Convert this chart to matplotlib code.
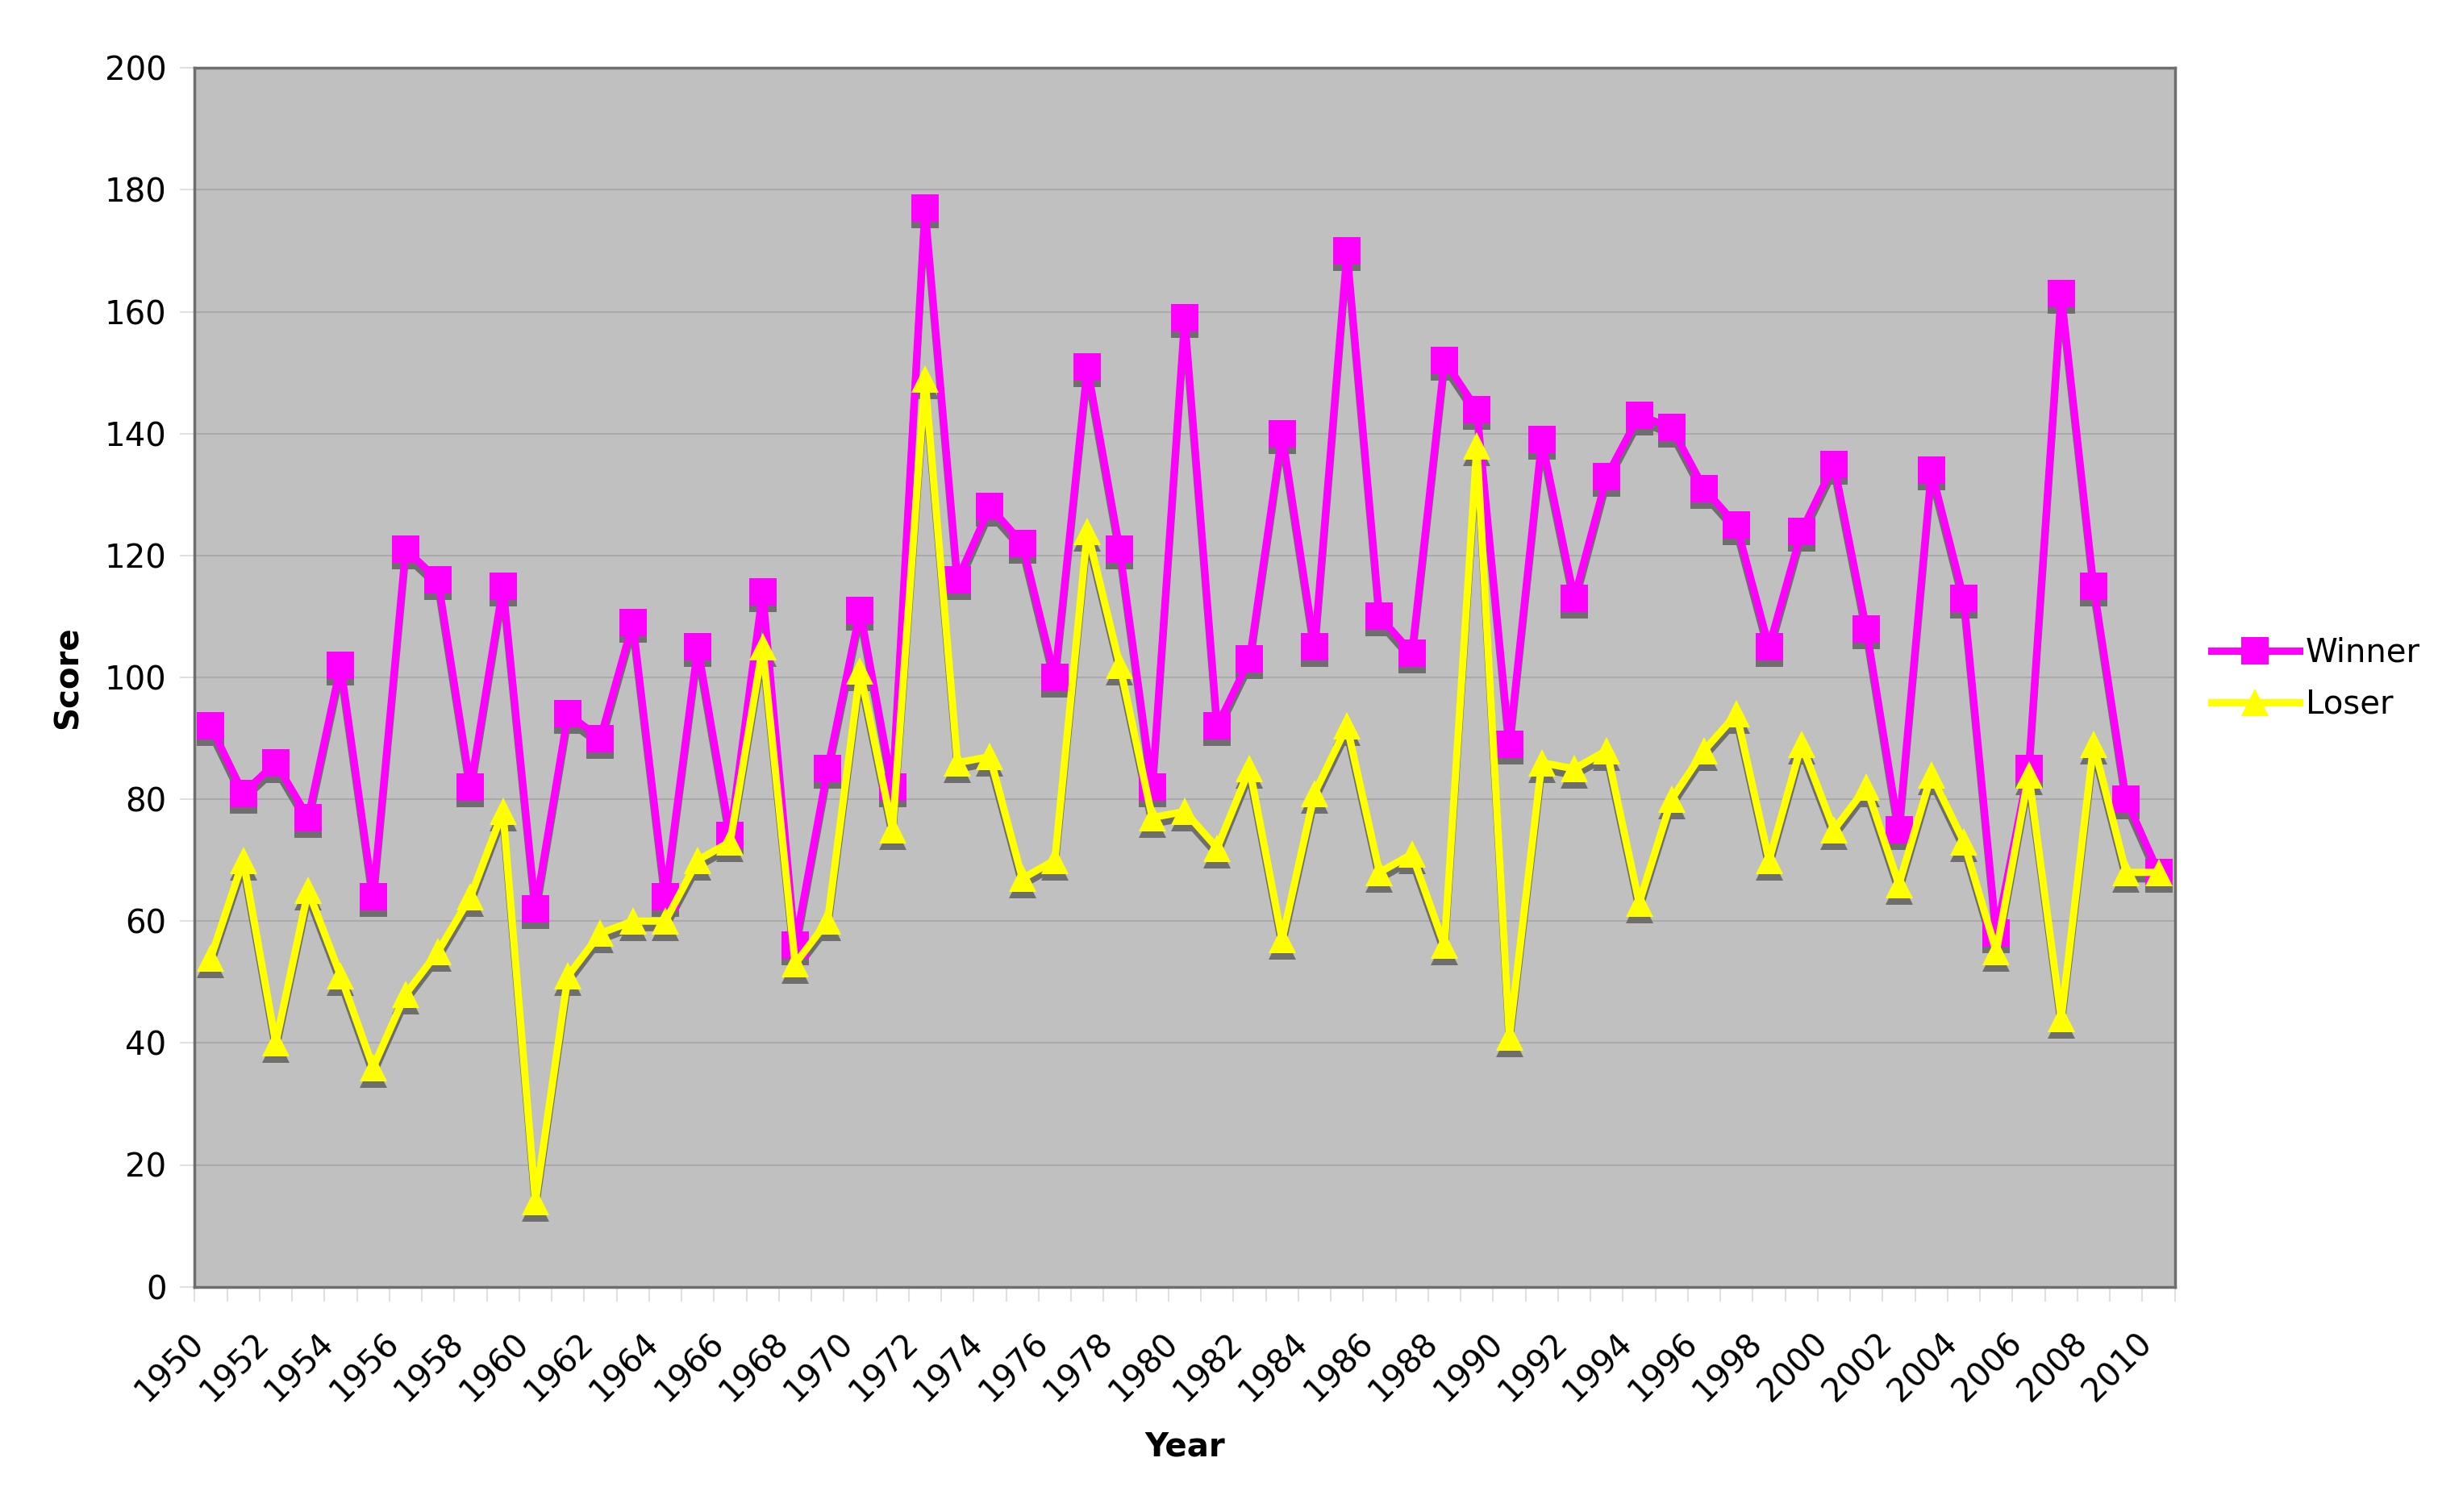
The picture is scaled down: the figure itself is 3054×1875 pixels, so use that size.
import numpy as np
import matplotlib
matplotlib.use("Agg")
import matplotlib.pyplot as plt
from matplotlib.transforms import ScaledTranslation

years = list(range(1950, 2011))

winner = [92, 81, 86, 77, 102, 64, 121, 116, 82, 115,
          62, 94, 90, 109, 64, 105, 74, 114, 56, 85,
          111, 82, 177, 116, 128, 122, 100, 151, 121, 82,
          159, 92, 103, 140, 105, 170, 110, 104, 152, 144,
          89, 139, 113, 133, 143, 141, 131, 125, 105, 124,
          135, 108, 75, 134, 113, 58, 85, 163, 115, 80,
          68]

loser = [54, 70, 40, 65, 51, 36, 48, 55, 64, 78,
         14, 51, 58, 60, 60, 70, 73, 105, 53, 60,
         101, 75, 149, 86, 87, 67, 70, 124, 102, 77,
         78, 72, 85, 57, 81, 92, 68, 71, 56, 138,
         41, 86, 85, 88, 63, 80, 88, 94, 70, 89,
         75, 82, 66, 84, 73, 55, 84, 44, 89, 68,
         68]

tick_years = list(range(1950, 2011, 2))
y_ticks = list(range(0, 201, 20))

plt.rcParams['font.family'] = ['DejaVu Sans']

fig = plt.figure(figsize=(30.54, 18.75), dpi=100)
ax = fig.add_axes([0.079, 0.149, 0.804, 0.806])
ax.set_facecolor('#C0C0C0')

# drop shadow: same data drawn in grey, shifted straight down
shadow = ax.transData + ScaledTranslation(0, -8 / 100, fig.dpi_scale_trans)
for vals, mk in [(winner, 's'), (loser, '^')]:
    ax.plot(years, vals, color='#6E6E6E', lw=6.5, marker=mk, ms=24,
            mec='#6E6E6E', mew=0, transform=shadow, zorder=2)

ax.plot(years, winner, color='#FF00FF', lw=6.5, marker='s', ms=24,
        mfc='#FF00FF', mec='#FF00FF', mew=0, label='Winner', zorder=3)
ax.plot(years, loser, color='#FFFF00', lw=6.5, marker='^', ms=24,
        mfc='#FFFF00', mec='#FFFF00', mew=0, label='Loser', zorder=3)

ax.set_xlim(1949.5, 2010.5)
ax.set_ylim(0, 200)
ax.set_yticks(y_ticks)
ax.set_xticks(tick_years)
ax.set_xticks(np.arange(1949.5, 2011, 1), minor=True)
ax.set_xticklabels([str(y) for y in tick_years], rotation=45, ha='right')

ax.grid(axis='y', color='#AAAAAA', lw=1.5, zorder=1)
ax.set_axisbelow(True)

ax.tick_params(axis='x', which='major', length=0, pad=36, labelsize=29)
ax.tick_params(axis='x', which='minor', length=13, width=1.5, color='#E0E0E0')
ax.tick_params(axis='y', length=13, width=1.5, color='#E0E0E0', pad=12, labelsize=29)

for s in ax.spines.values():
    s.set_color('#6E6E6E')
    s.set_linewidth(2.5)

ax.set_xlabel('Year', fontsize=29, fontweight='bold', labelpad=20)
ax.set_ylabel('Score', fontsize=29, fontweight='bold', labelpad=18)

fig.legend(loc='center left', bbox_to_anchor=(0.886, 0.551), frameon=False,
           fontsize=29, handlelength=2.7, handletextpad=0.2, labelspacing=0.6)

fig.savefig('out.png', dpi=100)
